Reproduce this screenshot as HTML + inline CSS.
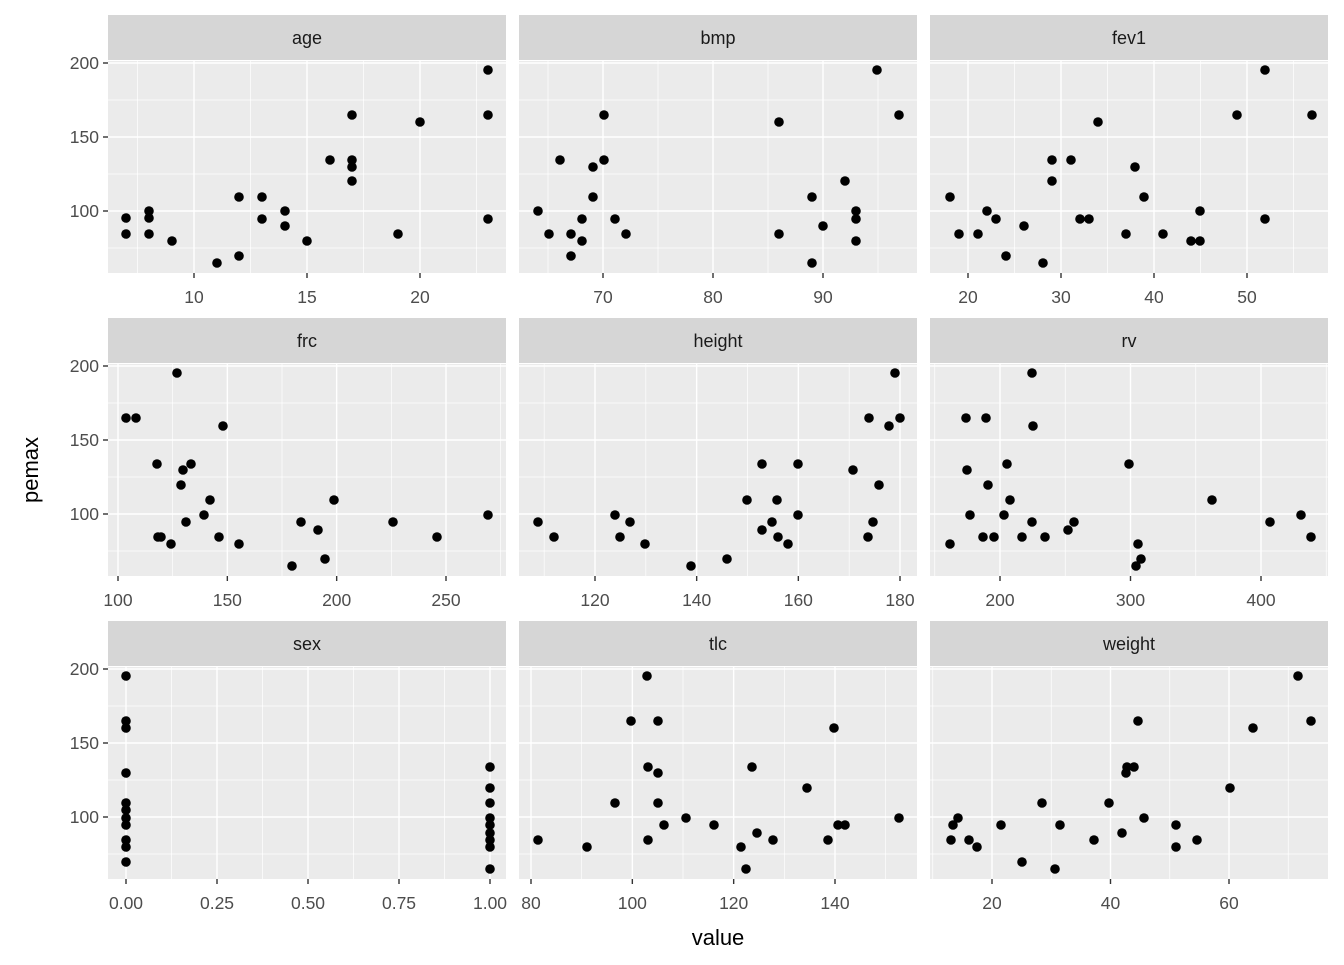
<!DOCTYPE html>
<html><head><meta charset="utf-8"><style>
html,body{margin:0;padding:0;background:#fff;}
svg text{font-family:"Liberation Sans",Arial,sans-serif;}
</style></head><body>
<svg id="s" width="1344" height="960" xmlns="http://www.w3.org/2000/svg"></svg>
<script>
const s=document.getElementById('s');let h='';
const cols=[108,519,930],W=398;
const rows=[{st:15,pt:61,pb:273},{st:318,pt:364,pb:576},{st:621,pt:667,pb:879}];
const names=[["age","bmp","fev1"],["frc","height","rv"],["sex","tlc","weight"]];
const xa=[[[10,194,20,420,[10,15,20],null],[70,603,90,823,[70,80,90],null],[20,968,50,1247,[20,30,40,50],null]],
[[100,118,250,446,[100,150,200,250],null],[120,595,180,900,[120,140,160,180],null],[200,1000,400,1261,[200,300,400],null]],
[[0,126,1,490,[0,0.25,0.5,0.75,1],["0.00","0.25","0.50","0.75","1.00"]],[80,531,140,835,[80,100,120,140],null],[20,992,60,1229,[20,40,60],null]]];
const pts=[
[[[126,218],[126,234],[149,211],[149,218],[149,234],[172,241],[217,263],[239,197],[239,256],[262,197],[262,219],[285,211],[285,226],[307,241],[330,160],[352,115],[352,160],[352,167],[352,181],[398,234],[420,122],[488,70],[488,115],[488,219]],
[[538,211],[549,234],[560,160],[571,234],[571,256],[582,219],[582,241],[593,167],[593,197],[604,115],[604,160],[615,219],[626,234],[779,122],[779,234],[812,197],[812,263],[823,226],[845,181],[856,211],[856,219],[856,241],[877,70],[899,115]],
[[950,197],[959,234],[978,234],[987,211],[996,219],[1006,256],[1024,226],[1043,263],[1052,160],[1052,181],[1071,160],[1080,219],[1089,219],[1098,122],[1126,234],[1135,167],[1144,197],[1163,234],[1191,241],[1200,211],[1200,241],[1237,115],[1265,70],[1265,219],[1312,115]]],
[[[126,418],[136,418],[157,464],[158,537],[161,537],[171,544],[177,373],[181,485],[183,470],[186,522],[191,464],[204,515],[210,500],[219,537],[223,426],[239,544],[292,566],[301,522],[318,530],[325,559],[334,500],[393,522],[437,537],[488,515]],
[[538,522],[554,537],[615,515],[620,537],[630,522],[645,544],[691,566],[727,559],[747,500],[762,464],[762,530],[772,522],[777,500],[778,537],[788,544],[798,464],[798,515],[853,470],[868,537],[869,418],[873,522],[879,485],[889,426],[895,373],[900,418]],
[[950,544],[966,418],[967,470],[970,515],[983,537],[986,418],[988,485],[994,537],[1004,515],[1007,464],[1010,500],[1022,537],[1032,373],[1033,426],[1032,522],[1045,537],[1068,530],[1074,522],[1129,464],[1136,566],[1138,544],[1141,559],[1212,500],[1270,522],[1301,515],[1311,537]]],
[[[126,676],[126,721],[126,728],[126,773],[126,803],[126,810],[126,818],[126,825],[126,840],[126,847],[126,862],[490,767],[490,788],[490,803],[490,818],[490,825],[490,833],[490,840],[490,847],[490,869]],
[[538,840],[587,847],[615,803],[631,721],[647,676],[648,767],[648,840],[658,773],[658,721],[658,803],[664,825],[686,818],[714,825],[741,847],[746,869],[752,767],[757,833],[773,840],[807,788],[828,840],[834,728],[838,825],[845,825],[899,818]],
[[951,840],[953,825],[958,818],[969,840],[977,847],[1001,825],[1022,862],[1042,803],[1055,869],[1060,825],[1094,840],[1127,767],[1134,767],[1122,833],[1126,773],[1138,721],[1144,818],[1109,803],[1176,825],[1176,847],[1197,840],[1230,788],[1253,728],[1298,676],[1311,721]]]];
rows.forEach((r,ri)=>{
 const off=[0,303,606][ri];
 const yv=v=>211-(v-100)*1.48+off;
 cols.forEach((c,ci)=>{
  h+=`<rect x="${c}" y="${r.st}" width="${W}" height="${r.pt-r.st-1}" fill="#D6D6D6"/>`;
  h+=`<text x="${c+W/2}" y="${(r.st+r.pt)/2+6}" font-size="18" fill="#1A1A1A" text-anchor="middle">${names[ri][ci]}</text>`;
  h+=`<rect x="${c}" y="${r.pt}" width="${W}" height="${r.pb-r.pt}" fill="#EBEBEB"/>`;
  const a=xa[ri][ci];const k=(a[3]-a[1])/(a[2]-a[0]);const xp=v=>a[1]+(v-a[0])*k;
  const tk=a[4],st=tk[1]-tk[0];
  let minors=[];for(let v=tk[0]-st/2;v<=tk[tk.length-1]+st;v+=st)minors.push(v);
  minors.forEach(v=>{const x=xp(v);if(x>c&&x<c+W)h+=`<line x1="${x}" x2="${x}" y1="${r.pt}" y2="${r.pb}" stroke="#fff" stroke-width="0.7"/>`;});
  [75,125,175].forEach(v=>h+=`<line x1="${c}" x2="${c+W}" y1="${yv(v)}" y2="${yv(v)}" stroke="#fff" stroke-width="0.7"/>`);
  [100,150,200].forEach(v=>h+=`<line x1="${c}" x2="${c+W}" y1="${yv(v)}" y2="${yv(v)}" stroke="#fff" stroke-width="1.4"/>`);
  tk.forEach((v,i)=>{const x=xp(v);h+=`<line x1="${x}" x2="${x}" y1="${r.pt}" y2="${r.pb}" stroke="#fff" stroke-width="1.4"/>`;
   h+=`<line x1="${x}" x2="${x}" y1="${r.pb}" y2="${r.pb+5}" stroke="#333" stroke-width="1.4"/>`;
   h+=`<text x="${x}" y="${r.pb+30}" font-size="17.5" fill="#4D4D4D" text-anchor="middle">${a[5]?a[5][i]:v}</text>`;});
  pts[ri][ci].forEach(p=>h+=`<circle cx="${p[0]}" cy="${p[1]}" r="4.8" fill="#000"/>`);
 });
 [100,150,200].forEach(v=>{h+=`<line x1="103" x2="108" y1="${yv(v)}" y2="${yv(v)}" stroke="#333" stroke-width="1.4"/>`;
  h+=`<text x="99" y="${yv(v)+6}" font-size="17.5" fill="#4D4D4D" text-anchor="end">${v}</text>`;});
});
h+=`<text x="718" y="945" font-size="22" fill="#000" text-anchor="middle">value</text>`;
h+=`<text transform="translate(38,470) rotate(-90)" font-size="22" fill="#000" text-anchor="middle">pemax</text>`;
s.innerHTML=h;
</script>
</body></html>
